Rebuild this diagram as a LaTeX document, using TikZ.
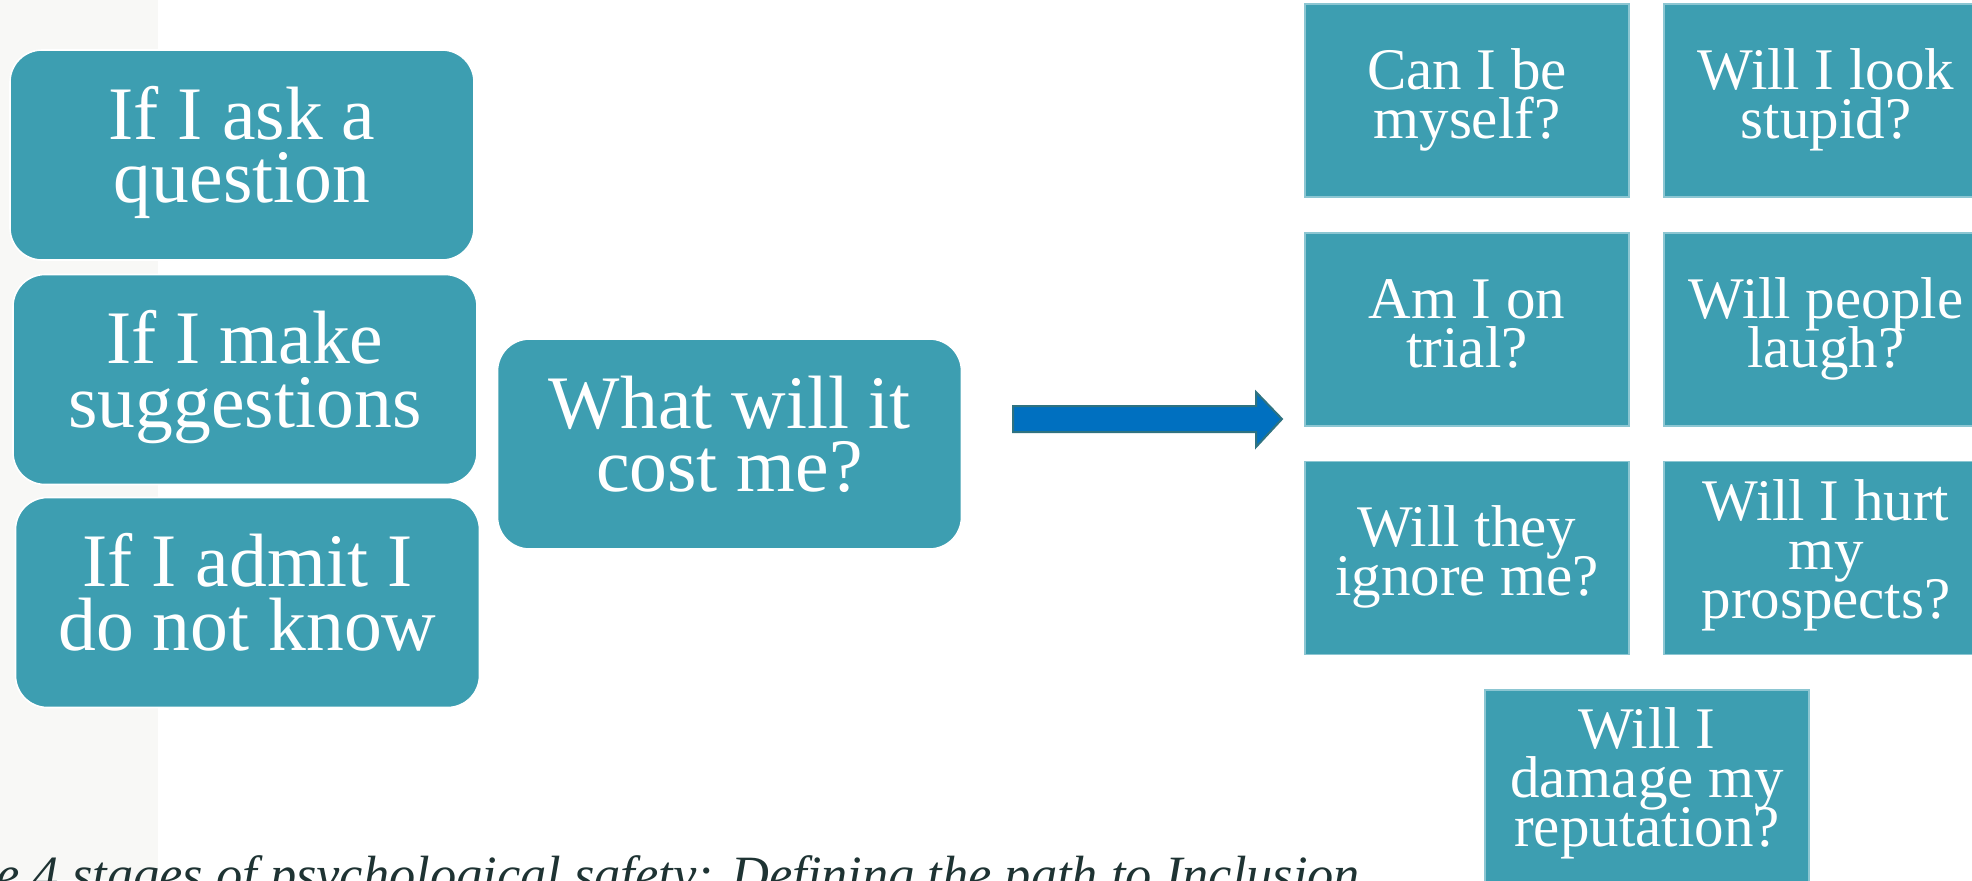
\documentclass[tikz,border=0pt]{standalone}
\usepackage{fontspec}
\setmainfont{Liberation Serif}
\definecolor{boxteal}{HTML}{3D9EB1}
\definecolor{boxedge}{HTML}{8CC6D2}
\definecolor{stripgray}{HTML}{F8F8F6}
\definecolor{arrowblue}{HTML}{0070C0}
\definecolor{arrowedge}{HTML}{2F7381}
\definecolor{captcol}{HTML}{1E3333}
\newcommand\mylines[1]{\vtop{\lineskiplimit=-1000pt\halign{\hfil##\hfil\cr#1\crcr}}}
\begin{document}
\begin{tikzpicture}[x=0.5pt,y=-0.5pt,
  roundbox/.style={rectangle, rounded corners=16pt, fill=boxteal, draw=white, line width=0.8pt,
    minimum width=232pt, minimum height=105pt, inner sep=0pt, text=white,
    font=\fontsize{37.8pt}{31.75pt}\selectfont, text height=0pt, text depth=16pt},
  sqbox/.style={rectangle, fill=boxteal, draw=boxedge, line width=0.6pt,
    minimum width=162pt, minimum height=96.5pt, inner sep=0pt, text=white,
    font=\fontsize{29.5pt}{24.5pt}\selectfont, text height=0pt, text depth=11.5pt},
  threeline/.style={text depth=38pt},
  blockarrow/.style={draw=arrowedge, fill=arrowblue, line width=1pt, line join=miter},
  caption/.style={anchor=base west, inner sep=0pt, text=captcol,
    font=\itshape\fontsize{26.2pt}{30pt}\selectfont}
]
\clip (0,0) rectangle (1972,880);
\useasboundingbox (0,0) rectangle (1972,880);
\fill[stripgray] (0,0) rectangle (158,880);

% left column
\node[roundbox] (ask) at (242,155) {\mylines{If I ask a\cr question}};
\node[roundbox] (suggest) at (245,379.5) {\mylines{If I make\cr suggestions}};
\node[roundbox] (admit) at (247.5,602.5) {\mylines{If I admit I\cr do not know}};

% centre
\node[roundbox] (cost) at (729.5,444) {\mylines{What will it\cr cost me?}};

% block arrow
\coordinate (tail) at (1013,419);
\coordinate (tip) at (1282,419);
\draw[blockarrow] (tail) ++(0,-13) -- (1256,406) -- (1256,392) -- (tip) -- (1256,447) -- (1256,432) -- (1013,432) -- cycle;

% right grid
\node[sqbox] (myself) at (1467,100.5) {\mylines{Can I be\cr myself?}};
\node[sqbox] (stupid) at (1826,100.5) {\mylines{Will I look\cr stupid?}};
\node[sqbox] (trial) at (1467,329.5) {\mylines{Am I on\cr trial?}};
\node[sqbox] (laugh) at (1826,329.5) {\mylines{Will people\cr laugh?}};
\node[sqbox] (ignore) at (1467,558) {\mylines{Will they\cr ignore me?}};
\node[sqbox, threeline] (prospects) at (1826,558) {\mylines{Will I hurt\cr my\cr prospects?}};
\node[sqbox, threeline] (reputation) at (1647,786.5) {\mylines{Will I\cr damage my\cr reputation?}};

% caption
\node[caption] (cap) at (-4,892) {e 4 stages of psychological safety: Defining the path to Inclusion};
\end{tikzpicture}
\end{document}
